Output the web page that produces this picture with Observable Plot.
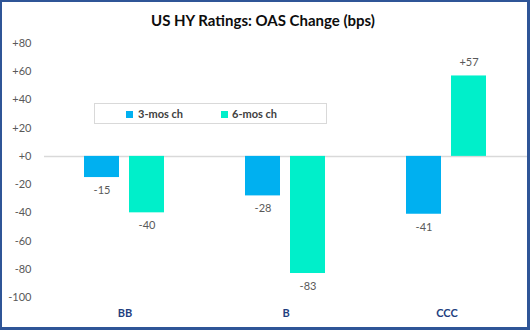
<!DOCTYPE html>
<html>
<head>
<meta charset="utf-8">
<script src="https://cdn.jsdelivr.net/npm/d3@7"></script>
<script src="https://cdn.jsdelivr.net/npm/@observablehq/plot@0.6"></script>
<style>
  html, body { margin: 0; padding: 0; background: #fff; }
  #wrap { position: relative; width: 530px; height: 330px; overflow: hidden; font-family: Lato, "Open Sans", sans-serif; }
  #chart { position: absolute; left: 0; top: 0; }
  #title { position: absolute; left: 0; width: 526px; top: 11px; text-align: center; font-weight: bold; font-size: 15px; color: #0D0D0D; }
  #legend { position: absolute; left: 94px; top: 103px; width: 233px; height: 21px; border: 1px solid #D9D9D9; background: #fff; box-sizing: border-box; }
  .sw { position: absolute; top: 7px; width: 7px; height: 7px; }
  .lt { position: absolute; top: 3px; font-size: 11px; font-weight: bold; color: #404040; line-height: 13px; }
  #border { position: absolute; left: 0; top: 0; width: 530px; height: 330px; border: 2px solid #2F5597; border-right-width: 3px; border-bottom-width: 3px; box-sizing: border-box; pointer-events: none; }
</style>
</head>
<body>
<div id="wrap">
  <div id="chart"></div>
  <div id="title">US HY Ratings: OAS Change (bps)</div>
  <div id="legend"></div>
  <div id="border"></div>
</div>
<script>
const categories = ["BB", "B", "CCC"];
const series = ["3-mos ch", "6-mos ch"];
const threeMos = [-15, -28, -41];
const sixMos = [-40, -83, 57];
const yTicks = [80, 60, 40, 20, 0, -20, -40, -60, -80, -100];
const colors = ["#00B0F0", "#00EFCA"];

const rows = [];
categories.forEach((c, i) => {
  rows.push({cat: c, series: series[0], value: threeMos[i]});
  rows.push({cat: c, series: series[1], value: sixMos[i]});
});

const fmt = d => (d >= 0 ? "+" + d : "-" + Math.abs(d));

const plot = Plot.plot({
  width: 530,
  height: 330,
  marginTop: 43,
  marginBottom: 33,
  marginLeft: 43,
  marginRight: 3,
  style: {fontFamily: "Lato, 'Open Sans', sans-serif", fontSize: "11px", background: "transparent"},
  fx: {domain: categories, padding: 0, label: null, axis: null},
  x: {domain: series, paddingInner: 0.217, paddingOuter: 0.864, axis: null},
  y: {domain: [-100, 80], axis: null},
  color: {domain: series, range: colors},
  marks: [
    Plot.axisY({ticks: yTicks, tickFormat: fmt, tickSize: 0, tickPadding: 13, fill: "#595959", label: null}),
    Plot.axisFx({tickSize: 0, tickPadding: 12, fill: "#1F3F7F", fontWeight: "bold", label: null, anchor: "bottom"}),
    Plot.ruleY([0], {stroke: "#D9D9D9", strokeWidth: 1.5}),
    Plot.barY(rows, {fx: "cat", x: "series", y: "value", fill: "series"}),
    Plot.text(rows.filter(d => d.value < 0), {fx: "cat", x: "series", y: "value", text: d => fmt(d.value), dy: 13, fill: "#595959"}),
    Plot.text(rows.filter(d => d.value >= 0), {fx: "cat", x: "series", y: "value", text: d => fmt(d.value), dy: -13, fill: "#595959"})
  ]
});
document.getElementById("chart").appendChild(plot);

const legend = document.getElementById("legend");
const swX = [31, 126];
const txX = [43, 137];
series.forEach((s, i) => {
  const sw = document.createElement("div");
  sw.className = "sw";
  sw.style.left = swX[i] + "px";
  sw.style.background = colors[i];
  legend.appendChild(sw);
  const t = document.createElement("div");
  t.className = "lt";
  t.style.left = txX[i] + "px";
  t.textContent = s;
  legend.appendChild(t);
});
</script>
</body>
</html>
